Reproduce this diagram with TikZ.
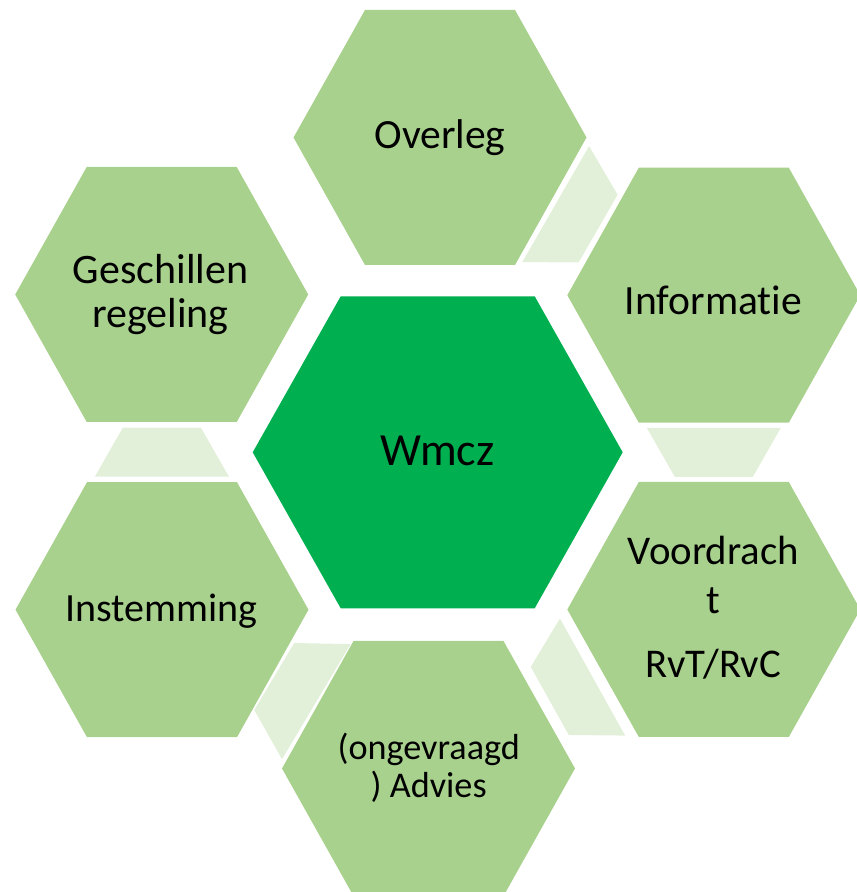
\documentclass[tikz,border=0pt]{standalone}
\usepackage{fontspec}
\setmainfont{Carlito}[RawFeature={-liga}]
\usetikzlibrary{calc}
\definecolor{hexlight}{HTML}{A9D18E}
\definecolor{hexcore}{HTML}{00B050}
\definecolor{connfill}{HTML}{E2F0D9}
\newcommand\hexlines[2]{\vtop{\baselineskip=#1\relax\halign{\hfil##\hfil\cr#2\cr}}}
\newcommand\outerhex[1]{\fill[hexlight, shift={(#1)}] (-146.5,0) -- (-75,127.5) -- (75,127.5) -- (146.5,0) -- (75,-127.5) -- (-75,-127.5) -- cycle;}
\newcommand\linkshape[2]{%
  \coordinate (lm) at ($(#1)!0.5!(#2)$);
  \coordinate (ls) at ($(lm)!12.25pt!(#1)$);
  \coordinate (lt) at ($(lm)!12.25pt!(#2)$);
  \fill[connfill] ($(ls)!33.5pt!90:(lm)$) -- ($(lt)!19.5pt!-90:(lm)$) -- ($(lt)!19.5pt!90:(lm)$) -- ($(ls)!33.5pt!-90:(lm)$) -- cycle;}
\begin{document}
\begin{tikzpicture}[x=0.5pt,y=0.5pt,
  lbl/.style={inner sep=0pt, anchor=base, text=black}]
\useasboundingbox (0,0) rectangle (856,892);
% hexagon centres
\coordinate (core) at (437.7,439.7);
\coordinate (ov) at (440,754.5);
\coordinate (inf) at (713.8,596.8);
\coordinate (voo) at (713.8,282.5);
\coordinate (adv) at (428.5,123.5);
\coordinate (ins) at (162,282.3);
\coordinate (ges) at (161.7,597.5);
% hexagons
\fill[hexcore, shift={(core)}] (-185,0) -- (-97,156) -- (97,156) -- (185,0) -- (97,-156) -- (-97,-156) -- cycle;
\outerhex{ov}
\outerhex{inf}
\outerhex{voo}
\outerhex{adv}
\outerhex{ins}
\outerhex{ges}
% connectors
\linkshape{ov}{inf}
\linkshape{inf}{voo}
\linkshape{voo}{adv}
\linkshape{adv}{ins}
\linkshape{ins}{ges}
% labels
\node[lbl, font=\fontsize{23}{28}\selectfont] (coret) at (437.5,426.3) {Wmcz};
\node[lbl, font=\fontsize{20.8}{25}\selectfont] (ovt) at (440,743.5) {Overleg};
\node[lbl, font=\fontsize{20.8}{25}\selectfont] (inft) at (713.3,577) {Informatie};
\node[lbl, font=\fontsize{20.4}{24}\selectfont] (voot) at (713.3,327) {\hexlines{24.2pt}{Voordrach\cr t\cr\noalign{\vskip 8.1pt}RvT/RvC}};
\node[lbl, font=\fontsize{18.1}{19}\selectfont] (advt) at (428.7,132) {\hexlines{19pt}{(ongevraagd\cr ) Advies}};
\node[lbl, font=\fontsize{20}{24}\selectfont] (inst) at (161.7,270.3) {Instemming};
\node[lbl, font=\fontsize{21}{22}\selectfont] (gest) at (160.5,608.7) {\hexlines{22.3pt}{Geschillen\cr regeling}};
\end{tikzpicture}
\end{document}
